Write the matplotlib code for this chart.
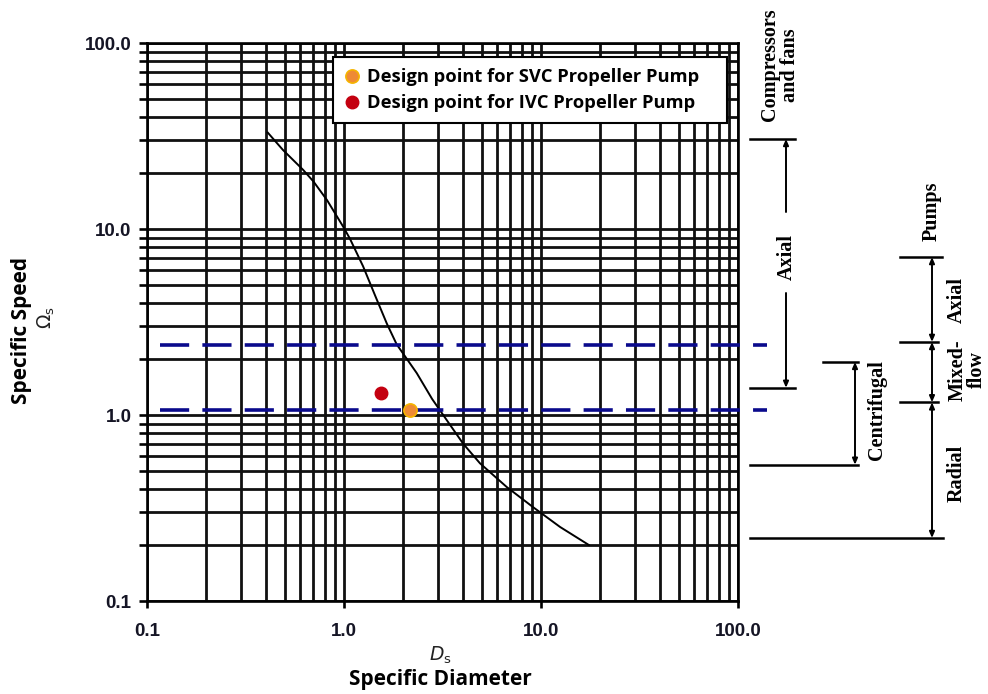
import matplotlib
matplotlib.use("Agg")
import matplotlib.pyplot as plt
import matplotlib.transforms as mtransforms
from matplotlib.ticker import FixedLocator, LogLocator, NullFormatter, FixedFormatter
import numpy as np

# ---- data ----
curve_ds = [0.41, 0.49, 0.62, 0.70, 0.82, 0.99, 1.07, 1.25, 1.45, 1.65, 1.85, 2.34, 2.8,
            3.32, 4.03, 4.9, 6.7, 9.1, 12.5, 17.5]
curve_ns = [33.0, 26.6, 20.8, 18.0, 14.3, 10.3, 8.9, 6.3, 4.3, 3.1, 2.4, 1.68, 1.22,
            0.94, 0.70, 0.55, 0.41, 0.32, 0.25, 0.20]

svc_point = (2.16, 1.07)
ivc_point = (1.55, 1.31)
dash_levels = [2.38, 1.06]
dash_x = [0.116, 140.0]

tick_vals = [0.1, 1.0, 10.0, 100.0]
tick_labels = ["0.1", "1.0", "10.0", "100.0"]

# classification boundaries (specific speed values)
comp_axial = (30.5, 1.40)
centrifugal = (1.93, 0.54)
pump_bounds = [7.07, 2.47, 1.17, 0.218]   # axial top, axial/mixed, mixed/radial, radial bottom

W, H = 988, 694
fig = plt.figure(figsize=(W / 100, H / 100), dpi=100)
ax = fig.add_axes([147 / W, 1 - 601 / H, (738 - 147) / W, (601 - 43) / H])
ax.set_xscale("log")
ax.set_yscale("log")
ax.set_xlim(0.1, 100)
ax.set_ylim(0.1, 100)

for s in ax.spines.values():
    s.set_linewidth(1.9)
    s.set_color("black")

ax.xaxis.set_major_locator(FixedLocator(tick_vals))
ax.yaxis.set_major_locator(FixedLocator(tick_vals))
ax.xaxis.set_major_formatter(FixedFormatter(tick_labels))
ax.yaxis.set_major_formatter(FixedFormatter(tick_labels))
ax.xaxis.set_minor_locator(LogLocator(base=10, subs=np.arange(2, 10), numticks=20))
ax.yaxis.set_minor_locator(LogLocator(base=10, subs=np.arange(2, 10), numticks=20))
ax.xaxis.set_minor_formatter(NullFormatter())
ax.yaxis.set_minor_formatter(NullFormatter())
ax.grid(True, which="both", color="#111111", linewidth=2.0)
ax.tick_params(axis="y", which="both", direction="out", length=6, width=1.9, pad=5)
ax.tick_params(axis="x", which="major", direction="out", length=5, width=1.9, pad=11)
ax.tick_params(axis="x", which="minor", length=0)
for lab in ax.get_xticklabels() + ax.get_yticklabels():
    lab.set_fontfamily("Liberation Sans")
    lab.set_fontweight("bold")
    lab.set_fontsize(13.5)
    lab.set_color("#151525")

# curve
ax.plot(curve_ds, curve_ns, color="black", lw=1.4, zorder=3, solid_joinstyle="round")

# dashed lines
plt.rcParams["lines.scale_dashes"] = False
for yv in dash_levels:
    ln, = ax.plot(dash_x, [yv, yv], color="#0a0a8c", lw=2.6, clip_on=False, zorder=4)
    ln.set_dashes((21, 9.5))

# design points
h1, = ax.plot([svc_point[0]], [svc_point[1]], "o", ms=9.5, mfc="#ee8a35", mec="#f5b400", mew=1.2, zorder=5, clip_on=False)
h2, = ax.plot([ivc_point[0]], [ivc_point[1]], "o", ms=9, mfc="#c40010", mec="#c40010", zorder=5)

leg = ax.legend([h1, h2], ["Design point for SVC Propeller Pump", "Design point for IVC Propeller Pump"],
                loc="upper left", bbox_to_anchor=(333 / W, 1 - 57 / H, (727 - 333) / W, 0.0),
                bbox_transform=fig.transFigure, mode="expand",
                borderaxespad=0, fancybox=False, framealpha=1, edgecolor="black",
                prop={"family": "Open Sans", "weight": "bold", "size": 13.2},
                handletextpad=0.35, handlelength=0.9, labelspacing=0.45, borderpad=0.6)
leg.get_frame().set_linewidth(1.5)
leg.set_zorder(10)

# axis labels
fig.text(22 / W, 1 - 330 / H, "Specific Speed", rotation=90, ha="center", va="center",
         fontfamily="Open Sans", fontweight="bold", fontsize=15)
fig.text(46 / W, 1 - 318 / H, r"$\Omega_\mathrm{s}$", rotation=90, ha="center", va="center", fontsize=13.5,
         color="#222222")
fig.text(440 / W, 1 - 655 / H, r"$D_\mathrm{s}$", ha="center", va="center",
         fontsize=13.5, color="#222222")
fig.text(440 / W, 1 - 680 / H, "Specific Diameter", ha="center", va="center",
         fontfamily="Open Sans", fontweight="bold", fontsize=15)

# right-side classification annotations
tr = mtransforms.blended_transform_factory(fig.transFigure, ax.transData)
def fx(px):
    return px / W

def hline(x0, x1, y):
    ax.plot([fx(x0), fx(x1)], [y, y], color="black", lw=1.8, transform=tr, clip_on=False)

def arrow(x, y0, y1, both=True):
    style = "<|-|>" if both else "-|>"
    ax.annotate("", xy=(fx(x), y1), xytext=(fx(x), y0), xycoords=tr, textcoords=tr,
                arrowprops=dict(arrowstyle=style + ",head_length=0.35,head_width=0.15",
                                color="black", lw=1.4, shrinkA=0, shrinkB=0))

serif = dict(fontfamily="Liberation Serif", fontweight="bold", fontsize=14.5, rotation=90,
             ha="center", va="center", transform=tr)

# compressors and fans
ax.text(fx(780), 10 ** ((415 - 65) / 186), "Compressors\nand fans", linespacing=0.95, **serif)
hline(750, 795, comp_axial[0])
hline(750, 795, comp_axial[1])
y_gap_top = 10 ** ((415 - 212) / 186)
y_gap_bot = 10 ** ((415 - 293) / 186)
arrow(786, y_gap_top, comp_axial[0], both=False)
arrow(786, y_gap_bot, comp_axial[1], both=False)
ax.text(fx(787), 10 ** ((415 - 257) / 186), "Axial", **serif)

# centrifugal
hline(823, 858, centrifugal[0])
hline(750, 858, centrifugal[1])
arrow(855, centrifugal[0], centrifugal[1])
ax.text(fx(877), 10 ** ((415 - 410) / 186), "Centrifugal", **serif)

# pumps
ax.text(fx(932), 10 ** ((415 - 211) / 186), "Pumps", **serif)
hline(900, 942, pump_bounds[0])
hline(900, 938, pump_bounds[1])
hline(900, 938, pump_bounds[2])
hline(750, 943, pump_bounds[3])
for a, b in zip(pump_bounds[:-1], pump_bounds[1:]):
    arrow(932, a, b)
ax.text(fx(957), 10 ** ((415 - 300) / 186), "Axial", **serif)
ax.text(fx(967), 10 ** ((415 - 370) / 186), "Mixed-\nflow", linespacing=0.95, **serif)
ax.text(fx(957), 10 ** ((415 - 473) / 186), "Radial", **serif)

fig.savefig("out.png", dpi=100, facecolor="white")
